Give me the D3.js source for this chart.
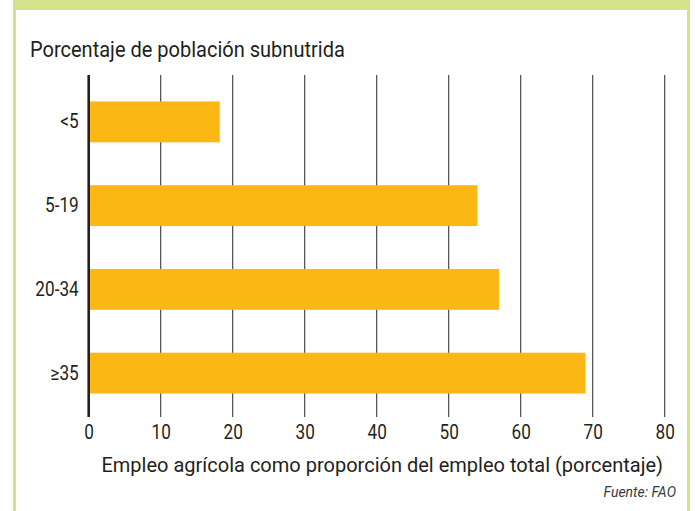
<!DOCTYPE html>
<html>
<head>
<meta charset="utf-8">
<script src="https://cdn.jsdelivr.net/npm/d3@7"></script>
<style>
  html, body { margin: 0; padding: 0; background: #fff; }
  svg { display: block; }
  text { font-family: Roboto, "Noto Sans", sans-serif; fill: #231f20; }
</style>
</head>
<body>
<svg id="chart" width="695" height="511"></svg>
<script>
// Share of agricultural employment by undernourishment class
const categories = ["<5", "5-19", "20-34", "≥35"];
const values = [18.2, 54, 57, 69];
const xTicks = [0, 10, 20, 30, 40, 50, 60, 70, 80];
const title = "Porcentaje de población subnutrida";
const xTitle = "Empleo agrícola como proporción del empleo total (porcentaje)";
const source = "Fuente: FAO";

const svg = d3.select("#chart");
const W = 695, H = 511;

// Squeeze a text element horizontally around its anchor so it spans a given width
function condense(node, width) {
  const t = d3.select(node);
  const bb = node.getBBox();
  const sx = width / bb.width;
  const anchor = t.attr("text-anchor") || node.parentNode.getAttribute("text-anchor") || "start";
  const ax = anchor === "end" ? bb.x + bb.width : anchor === "middle" ? bb.x + bb.width / 2 : bb.x;
  t.attr("transform", `translate(${ax},0) scale(${sx},1) translate(${-ax},0)`);
}

// Panel frame: green top band and side rules
const green = "#d3e28b";
svg.append("rect").attr("x", 13).attr("y", 0).attr("width", 677).attr("height", 10).attr("fill", green);
svg.append("rect").attr("x", 13).attr("y", 0).attr("width", 3).attr("height", H).attr("fill", green);
svg.append("rect").attr("x", 687).attr("y", 0).attr("width", 3).attr("height", H).attr("fill", green);

const plotTop = 75, plotBottom = 417;

const x = d3.scaleLinear().domain([0, 80]).range([88.7, 664.7]);
const y = d3.scaleBand().domain(categories).range([80, 415]).paddingInner(0.512).paddingOuter(0.256);

// Vertical gridlines
svg.append("g").selectAll("line")
  .data(xTicks.filter(d => d > 0))
  .join("line")
  .attr("x1", d => x(d)).attr("x2", d => x(d))
  .attr("y1", plotTop).attr("y2", plotBottom)
  .attr("stroke", "#3a3a3a").attr("stroke-width", 1.1);

// Bars
svg.append("g").selectAll("rect")
  .data(categories.map((c, i) => ({ c, v: values[i] })))
  .join("rect")
  .attr("x", x(0))
  .attr("y", d => y(d.c))
  .attr("width", d => x(d.v) - x(0))
  .attr("height", y.bandwidth())
  .attr("fill", "#fcb714");

// Left axis rule
svg.append("line")
  .attr("x1", x(0)).attr("x2", x(0))
  .attr("y1", plotTop).attr("y2", plotBottom)
  .attr("stroke", "#231f20").attr("stroke-width", 2.6);

// Category labels
const yAxis = d3.axisLeft(y).tickSize(0).tickPadding(10);
const gy = svg.append("g").attr("transform", `translate(${x(0)},0)`).call(yAxis);
gy.select(".domain").remove();
gy.selectAll("text").attr("font-size", 20).style("font-family", "Roboto, sans-serif").attr("fill", "#231f20")
  .attr("transform", "translate(-10,0) scale(0.86,1) translate(10,0)");

// Value tick labels
const xAxis = d3.axisBottom(x).tickValues(xTicks).tickSize(0).tickPadding(8);
const gx = svg.append("g").attr("transform", `translate(0,${plotBottom})`).call(xAxis);
gx.select(".domain").remove();
gx.selectAll("text").attr("font-size", 20).style("font-family", "Roboto, sans-serif").attr("fill", "#231f20")
  .attr("transform", "scale(0.86,1)");

// Titles
const tTitle = svg.append("text").attr("x", 30).attr("y", 57.5).attr("font-size", 21.5).text(title);
condense(tTitle.node(), 315);
const tX = svg.append("text").attr("x", 663).attr("y", 472).attr("text-anchor", "end")
  .attr("font-size", 20.5).text(xTitle);
condense(tX.node(), 562);
svg.append("text").attr("x", 676).attr("y", 497).attr("text-anchor", "end")
  .attr("font-size", 14).attr("font-style", "italic").style("fill", "#3a3a3a").text(source);
</script>
</body>
</html>
